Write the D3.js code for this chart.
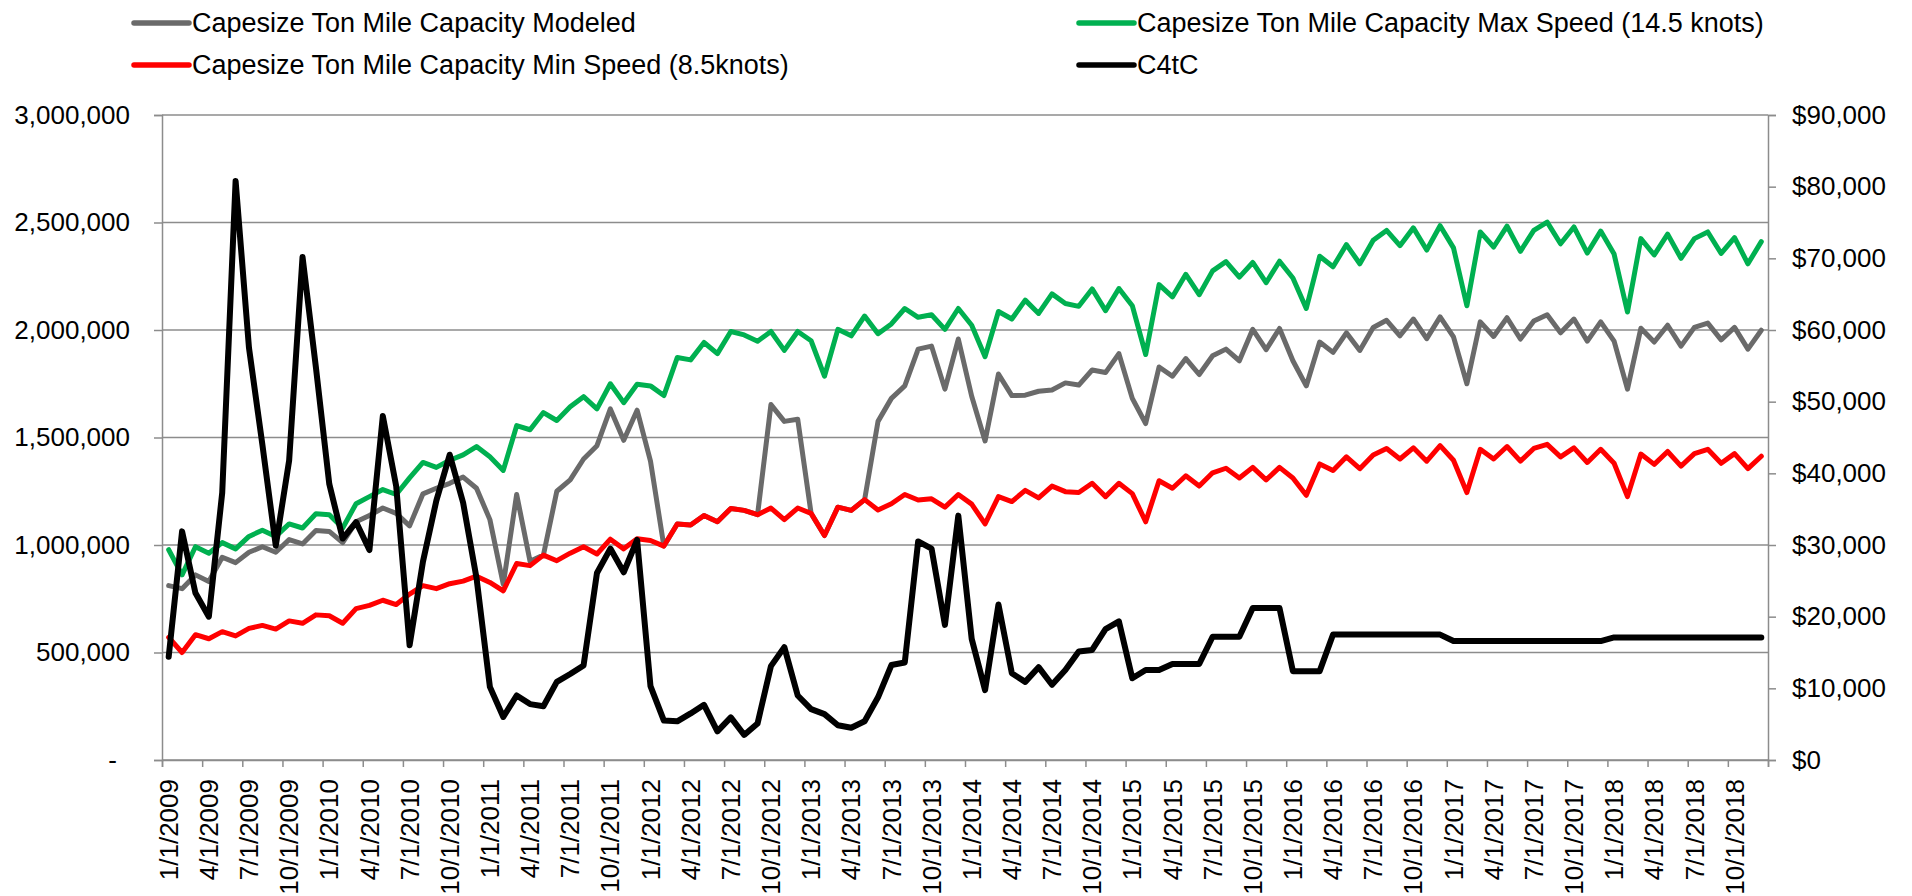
<!DOCTYPE html>
<html>
<meta charset="utf-8">
<style>
  body { margin: 0; background: #fff; }
  svg { width: 1912px; height: 896px; display: block; }
  text { font-family: "Liberation Sans", Arial, sans-serif; font-size: 26px; fill: #000; }
</style>

<body>
  <svg></svg>
</body>

<script src="https://d3js.org/d3.v7.min.js"></script>

<script>

  // monthly categories, 1/1/2009 .. 12/1/2018
  var months = d3.timeMonth.range(new Date(2009, 0, 1), new Date(2019, 0, 1));
  var fmtDate = d3.timeFormat("%-m/%-d/%Y");

  // every third month gets a label
  var tickLabels = ["1/1/2009", "4/1/2009", "7/1/2009", "10/1/2009", "1/1/2010", "4/1/2010", "7/1/2010", "10/1/2010",
    "1/1/2011", "4/1/2011", "7/1/2011", "10/1/2011", "1/1/2012", "4/1/2012", "7/1/2012", "10/1/2012",
    "1/1/2013", "4/1/2013", "7/1/2013", "10/1/2013", "1/1/2014", "4/1/2014", "7/1/2014", "10/1/2014",
    "1/1/2015", "4/1/2015", "7/1/2015", "10/1/2015", "1/1/2016", "4/1/2016", "7/1/2016", "10/1/2016",
    "1/1/2017", "4/1/2017", "7/1/2017", "10/1/2017", "1/1/2018", "4/1/2018", "7/1/2018", "10/1/2018"];

  var modeled = [811000, 797000, 861000, 830000, 943000, 918000, 966000, 992000, 966000, 1025000,
    1005000, 1067000, 1063000, 1011000, 1108000, 1137000, 1172000, 1147000, 1089000, 1238000,
    1264000, 1287000, 1316000, 1264000, 1118000, 817000, 1235000, 924000, 953000, 1250000,
    1303000, 1400000, 1462000, 1633000, 1487000, 1627000, 1390000, 995000, 1098000, 1093000,
    1137000, 1108000, 1170000, 1161000, 1141000, 1653000, 1575000, 1585000, 1147000, 1044000,
    1176000, 1161000, 1211000, 1575000, 1682000, 1740000, 1911000, 1925000, 1725000, 1958000,
    1692000, 1484000, 1795000, 1695000, 1697000, 1715000, 1721000, 1754000, 1744000, 1814000,
    1802000, 1890000, 1682000, 1565000, 1828000, 1785000, 1867000, 1793000, 1880000, 1911000,
    1857000, 2003000, 1909000, 2007000, 1857000, 1740000, 1944000, 1896000, 1987000, 1905000,
    2012000, 2045000, 1973000, 2051000, 1960000, 2061000, 1968000, 1750000, 2038000, 1970000,
    2057000, 1958000, 2042000, 2071000, 1987000, 2051000, 1948000, 2038000, 1948000, 1725000,
    2008000, 1944000, 2022000, 1925000, 2012000, 2032000, 1954000, 2012000, 1911000, 1999000];

  var maxSpeed = [978000, 861000, 992000, 962000, 1011000, 982000, 1040000, 1069000, 1040000, 1098000,
    1079000, 1145000, 1141000, 1079000, 1192000, 1225000, 1258000, 1235000, 1312000, 1384000,
    1361000, 1394000, 1419000, 1458000, 1410000, 1347000, 1555000, 1536000, 1616000, 1579000,
    1643000, 1690000, 1633000, 1750000, 1662000, 1748000, 1740000, 1695000, 1872000, 1861000,
    1942000, 1890000, 1993000, 1977000, 1948000, 1993000, 1905000, 1993000, 1950000, 1785000,
    2003000, 1973000, 2065000, 1983000, 2028000, 2100000, 2059000, 2071000, 2003000, 2100000,
    2022000, 1876000, 2086000, 2051000, 2139000, 2077000, 2168000, 2123000, 2110000, 2191000,
    2090000, 2193000, 2113000, 1886000, 2211000, 2154000, 2259000, 2164000, 2275000, 2318000,
    2246000, 2314000, 2220000, 2320000, 2242000, 2100000, 2343000, 2294000, 2397000, 2308000,
    2417000, 2463000, 2392000, 2475000, 2372000, 2485000, 2382000, 2113000, 2456000, 2386000,
    2483000, 2366000, 2463000, 2502000, 2401000, 2479000, 2358000, 2460000, 2353000, 2084000,
    2425000, 2349000, 2446000, 2333000, 2425000, 2456000, 2356000, 2430000, 2308000, 2411000];

  var minSpeed = [570000, 500000, 583000, 564000, 597000, 577000, 612000, 626000, 609000, 647000,
    636000, 675000, 671000, 636000, 704000, 719000, 743000, 723000, 772000, 811000,
    797000, 820000, 832000, 855000, 826000, 787000, 914000, 904000, 953000, 927000,
    962000, 992000, 958000, 1027000, 982000, 1029000, 1021000, 995000, 1098000, 1093000,
    1137000, 1108000, 1170000, 1161000, 1141000, 1172000, 1118000, 1172000, 1147000, 1044000,
    1176000, 1161000, 1211000, 1163000, 1192000, 1235000, 1209000, 1215000, 1176000, 1235000,
    1190000, 1098000, 1225000, 1202000, 1254000, 1219000, 1274000, 1248000, 1244000, 1287000,
    1225000, 1287000, 1239000, 1108000, 1299000, 1264000, 1322000, 1274000, 1336000, 1357000,
    1312000, 1361000, 1303000, 1361000, 1312000, 1231000, 1377000, 1347000, 1410000, 1355000,
    1419000, 1449000, 1400000, 1452000, 1390000, 1462000, 1394000, 1244000, 1445000, 1400000,
    1458000, 1390000, 1449000, 1468000, 1410000, 1452000, 1384000, 1445000, 1380000, 1225000,
    1423000, 1375000, 1435000, 1367000, 1425000, 1445000, 1380000, 1425000, 1355000, 1413000];

  var c4tc = [14400, 31900, 23300, 20000, 37300, 80800, 57500, 44000, 29900, 41800,
    70200, 54800, 38500, 30900, 33200, 29300, 48000, 38200, 16000, 27700,
    36200, 42600, 35900, 25400, 10200, 6000, 9000, 7800, 7500, 10900,
    12000, 13200, 26100, 29500, 26200, 30700, 10300, 5500, 5400, 6500,
    7700, 4000, 5950, 3500, 5100, 13100, 15750, 9000, 7100, 6400,
    4850, 4500, 5400, 8750, 13250, 13600, 30500, 29500, 18850, 34100,
    16900, 9750, 21700, 12100, 10900, 12950, 10500, 12550, 15150, 15350,
    18250, 19350, 11400, 12550, 12550, 13400, 13400, 13400, 17200, 17200,
    17200, 21200, 21200, 21200, 12400, 12400, 12400, 17500, 17500, 17500,
    17500, 17500, 17500, 17500, 17500, 17500, 16600, 16600, 16600, 16600,
    16600, 16600, 16600, 16600, 16600, 16600, 16600, 16600, 17100, 17100,
    17100, 17100, 17100, 17100, 17100, 17100, 17100, 17100, 17100, 17100];

  var leftTicks = [0, 500000, 1000000, 1500000, 2000000, 2500000, 3000000];
  var rightTicks = [0, 10000, 20000, 30000, 40000, 50000, 60000, 70000, 80000, 90000];

  var plot = {left: 162, right: 1768, top: 115, bottom: 760};
  var gridColor = "#8c8c8c";

  var svg = d3.select("svg");

  var cats = months.map(fmtDate);

  var x = d3.scaleBand().domain(cats).range([plot.left, plot.right]).padding(0);
  var xb = d3.scaleLinear().domain([0, cats.length]).range([plot.left, plot.right]);
  var yL = d3.scaleLinear().domain([0, 3000000]).range([plot.bottom, plot.top]);
  var yR = d3.scaleLinear().domain([0, 90000]).range([plot.bottom, plot.top]);

  // gridlines
  svg.append("g").selectAll("line")
    .data(leftTicks)
    .enter().append("line")
    .attr("x1", plot.left).attr("x2", plot.right)
    .attr("y1", function(d) { return yL(d); })
    .attr("y2", function(d) { return yL(d); })
    .attr("stroke", gridColor).attr("stroke-width", 1.5);

  // left axis
  var leftAxis = svg.append("g")
    .attr("transform", "translate(" + plot.left + ",0)")
    .call(d3.axisLeft(yL).tickValues(leftTicks).tickSize(8).tickPadding(24)
      .tickFormat(function(d) { return d === 0 ? "-" : d3.format(",")(d); }));
  leftAxis.selectAll("text").attr("dx", function(d) { return d === 0 ? -13 : 0; });

  // right axis
  svg.append("g")
    .attr("transform", "translate(" + plot.right + ",0)")
    .call(d3.axisRight(yR).tickValues(rightTicks).tickSize(8).tickPadding(16)
      .tickFormat(d3.format("$,")));

  // bottom axis: tick marks at category boundaries every 3 months
  var bounds = d3.range(0, cats.length + 1, 3);
  svg.append("g")
    .attr("transform", "translate(0," + plot.bottom + ")")
    .call(d3.axisBottom(xb).tickValues(bounds).tickSize(7).tickFormat(""));

  // bottom axis labels, centred on the categories
  var labelAxis = svg.append("g")
    .attr("transform", "translate(0," + plot.bottom + ")")
    .call(d3.axisBottom(x).tickValues(tickLabels).tickSize(0));
  labelAxis.select(".domain").remove();
  labelAxis.selectAll("text")
    .attr("transform", "rotate(-90)")
    .attr("x", -19).attr("y", 0).attr("dy", "0.35em")
    .style("text-anchor", "end");

  svg.selectAll(".domain, .tick line").attr("stroke", gridColor).attr("stroke-width", 1.5);
  svg.selectAll(".tick text").style("font-family", "\"Liberation Sans\", Arial, sans-serif")
    .style("font-size", "26px").attr("fill", "#000");

  function cx(d, i) { return x(cats[i]) + x.bandwidth() / 2; }

  var series = [
    {name: "Capesize Ton Mile Capacity Modeled", values: modeled, color: "#6a6a6a", width: 5, y: yL},
    {name: "Capesize Ton Mile Capacity Max Speed (14.5 knots)", values: maxSpeed, color: "#00b050", width: 5, y: yL},
    {name: "Capesize Ton Mile Capacity Min Speed (8.5knots)", values: minSpeed, color: "#ff0000", width: 5, y: yL},
    {name: "C4tC", values: c4tc, color: "#000000", width: 6, y: yR}
  ];

  series.forEach(function(s) {
    var line = d3.line()
      .x(cx)
      .y(function(d) { return s.y(d); });
    svg.append("path")
      .datum(s.values)
      .attr("d", line)
      .attr("fill", "none")
      .attr("stroke", s.color)
      .attr("stroke-width", s.width)
      .attr("stroke-linejoin", "round")
      .attr("stroke-linecap", "round");
  });

  // legend, two columns, row-major
  var legendPos = [[134, 23], [1079, 23], [134, 65], [1079, 65]];
  var legend = svg.append("g").selectAll("g")
    .data(series)
    .enter().append("g")
    .attr("transform", function(d, i) { return "translate(" + legendPos[i][0] + "," + legendPos[i][1] + ")"; });

  legend.append("line")
    .attr("x1", 0).attr("x2", 55)
    .attr("stroke", function(d) { return d.color; })
    .attr("stroke-width", 5.5)
    .attr("stroke-linecap", "round");

  legend.append("text")
    .attr("x", 58).attr("dy", "0.35em")
    .style("font-size", "27px")
    .text(function(d) { return d.name; });

</script>

</html>
